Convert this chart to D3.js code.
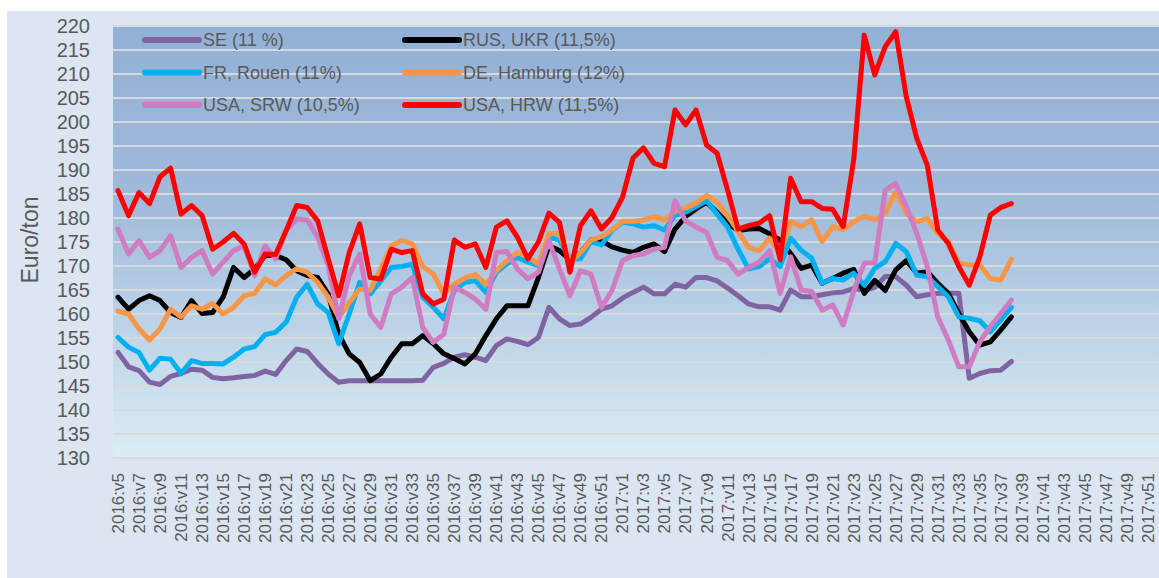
<!DOCTYPE html>
<html>
<head>
<meta charset="utf-8">
<script src="https://cdn.jsdelivr.net/npm/d3@7"></script>
<style>
  body { margin: 0; background: #fff; }
  text { font-family: "Liberation Sans", Arial, sans-serif; fill: #595959; }
</style>
</head>
<body>
<script>
const width = 1159;
const height = 578;

// weekly categories: 2016:v5 .. 2016:v52, 2017:v1 .. 2017:v52
const weeks2016 = d3.range(5, 53).map(w => "2016:v" + w);
const weeks2017 = d3.range(1, 53).map(w => "2017:v" + w);
const categories = weeks2016.concat(weeks2017);

const yTicks = d3.range(130, 221, 5);

// series values (Euro/ton), 2016:v5 .. 2017:v38
const se = [152,149,148.2,145.8,145.3,147,147.6,148.5,148.3,146.8,
  146.5,146.7,147,147.2,148.1,147.4,150.3,152.7,152.2,149.7,
  147.5,145.8,146.1,146.1,146.1,146.1,146.1,
  146.1,146.1,146.2,148.9,149.7,151,151.5,151,150.3,153.4,
  154.8,154.3,153.6,155.1,161.4,159,157.6,157.9,159.3,161,
  161.7,163.3,164.5,165.6,164.2,164.2,166.2,165.6,167.6,167.6,
  166.9,165.4,163.8,162.1,161.5,161.5,
  160.8,165,163.6,163.6,164,164.4,164.6,165.3,165,165.5,
  167.8,167.8,166,163.6,164,164.3,164.3,164.3,146.6,147.6,
  148.2,148.3,150.1];

const rusUkr = [163.5,161,162.8,163.8,162.8,160.3,159.3,162.8,160.1,160.3,
  163.5,169.7,167.6,169.4,172.2,172.2,171.3,169,168,167.6,
  164.2,155.8,151.7,149.9,146.1,147.5,151,
  153.8,153.8,155.5,153.8,151.7,150.7,149.6,151.7,155.5,159,
  161.7,161.7,161.7,167.6,174.2,173.2,171.3,172.8,175.4,175.3,
  174,173.3,172.8,173.9,174.6,173,177.7,180.3,181.9,183.3,
  181.2,178.9,177.4,177.7,177.8,176.7,
  175.4,172.6,169.5,170.2,166.4,167.4,168.5,169.3,164.3,167,
  164.9,169.2,171.1,168.5,168.8,166.4,164.3,160.1,156.3,153.5,
  154.2,156.7,159.4];

const frRouen = [155.1,153.1,152,148.3,150.8,150.6,147.6,150.3,149.7,149.7,
  149.6,151,152.7,153.2,155.7,156.2,158.3,163.5,166.2,162.1,
  160.3,153.8,160,166.6,164.2,166.9,169.7,
  169.9,170.4,163.5,161.4,159,164.9,166.6,166.9,164.5,168.7,
  170.4,171.8,170.8,170.1,176,175.4,171.5,171.5,175.1,174.4,
  177.4,179.1,178.8,178.1,178.4,177.5,180.5,181.2,182.4,183.6,
  180.8,178.1,173.5,169.4,169.9,171.5,
  169.9,175.8,173.3,171.6,166.4,167.4,167.1,168.5,166,169.5,
  170.9,174.7,173,168.1,167.8,165.7,163.6,159.4,159.1,158.6,
  156.3,158.8,161.4];

const deHamburg = [160.6,160,156.9,154.6,156.9,161,159.4,161.7,161,162.2,
  160,161.4,163.8,164.3,167.3,166.1,168,169.4,168.7,166.6,
  163.5,159.3,162.4,165.2,164.9,169.4,174.2,
  175.3,174.6,169.9,168.3,164.2,166.2,167.5,168.2,166.2,169,
  171.1,172.8,171.9,170.4,176.7,176.8,170.8,172.8,175.4,176.1,
  177.5,179.3,179.3,179.6,180.3,179.6,181.4,182.1,183.1,184.7,
  183.3,180.5,177.2,173.9,173.2,175.8,
  172.6,179.2,178.2,179.6,175.1,178.2,177.6,179.2,180.4,179.6,
  181,185.5,181,179.2,179.9,176.8,175.1,170.6,170.2,170.2,
  167.4,167.1,171.4];

const usaSrw = [177.7,172.5,175.3,171.8,173.2,176.3,169.7,171.8,173.2,168.3,
  170.8,173.2,174.2,168,174.2,171.5,177.4,179.8,179.6,176,
  170.1,159,168,172.5,160,157.2,164.2,
  165.6,167.6,157.2,154.1,155.8,165.6,164.5,163.1,161,172.8,
  173,169.4,167.3,168.7,175.3,169.4,163.8,169,168.3,161.4,
  164.9,171.1,172.2,172.5,173.5,173.9,183.6,179.4,178.1,177,
  171.8,171.1,168.3,169.7,170.8,173.2,
  164.3,171.9,165,164.7,160.8,161.9,157.7,164.7,170.6,170.6,
  185.8,187.2,182.4,176.8,169.9,159.4,154.6,149,149,154.2,
  157.4,160.1,162.9];

const usaHrw = [185.7,180.5,185.3,183,188.6,190.4,180.8,182.6,180.5,173.5,
  175,176.8,174.6,168.7,172.5,172.4,177.4,182.6,182.2,179.4,
  171.5,163.8,172.8,178.8,167.6,167.3,173.5,
  172.8,173.2,164.2,162.1,163.1,175.4,173.9,174.6,169.7,178.1,
  179.4,176,171.5,175,181,179.1,168.7,178.4,181.5,177.7,
  180.1,184.3,192.5,194.6,191.4,190.7,202.5,199.4,202.5,195.2,
  193.5,185.8,177.7,178.4,178.9,180.5,
  171.3,188.3,183.4,183.4,182,181.8,178.2,192.1,218.1,209.8,
  215.7,218.8,205.3,196.6,191,177.5,174.7,169.9,166,171.9,
  180.6,182.2,183];

const seriesNames = ["SE (11 %)", "RUS, UKR (11,5%)", "FR, Rouen (11%)",
  "DE, Hamburg (12%)", "USA, SRW (10,5%)", "USA, HRW (11,5%)"];
const seriesColors = ["#8064a2", "#000000", "#00b0f0", "#f79646", "#d07cc3", "#ff0000"];
const seriesValues = [se, rusUkr, frRouen, deHamburg, usaSrw, usaHrw];

const plot = {left: 113, right: 1159, top: 26, bottom: 458};

const x = d3.scalePoint().domain(categories).range([118, 1158.5]);
const y = d3.scaleLinear().domain([130, 220]).range([plot.bottom, plot.top]);

const svg = d3.select("body").append("svg")
  .attr("width", width)
  .attr("height", height);

// chart area
svg.append("rect")
  .attr("x", 7).attr("y", 11)
  .attr("width", width - 7).attr("height", height - 11)
  .attr("fill", "#dce6f2");

// plot area gradient
const grad = svg.append("defs").append("linearGradient")
  .attr("id", "plotbg").attr("x1", 0).attr("y1", 0).attr("x2", 0).attr("y2", 1);
grad.append("stop").attr("offset", "0%").attr("stop-color", "#93b1d6");
grad.append("stop").attr("offset", "40%").attr("stop-color", "#9fbadb");
grad.append("stop").attr("offset", "100%").attr("stop-color", "#dbedf4");

svg.append("rect")
  .attr("x", plot.left).attr("y", plot.top)
  .attr("width", plot.right - plot.left).attr("height", plot.bottom - plot.top)
  .attr("fill", "url(#plotbg)");

// gridlines
svg.append("g")
  .selectAll("line")
  .data(yTicks)
  .join("line")
    .attr("x1", plot.left).attr("x2", plot.right)
    .attr("y1", d => y(d)).attr("y2", d => y(d))
    .attr("stroke", "#d9d9d9")
    .attr("stroke-width", 2);

// y axis labels
svg.append("g")
  .selectAll("text")
  .data(yTicks)
  .join("text")
    .attr("x", 90)
    .attr("y", d => y(d))
    .attr("dy", "0.35em")
    .attr("text-anchor", "end")
    .attr("font-size", 20)
    .text(d => d);

svg.append("text")
  .attr("transform", "translate(38,240) rotate(-90)")
  .attr("text-anchor", "middle")
  .attr("font-size", 23)
  .text("Euro/ton");

// x axis labels, every second week
svg.append("g")
  .selectAll("text")
  .data(categories.filter((d, i) => i % 2 === 0))
  .join("text")
    .attr("transform", d => `translate(${x(d)},473) rotate(-90)`)
    .attr("dy", "0.35em")
    .attr("text-anchor", "end")
    .attr("font-size", 17)
    .text(d => d);

// lines
const line = d3.line()
  .x((d, i) => x(categories[i]))
  .y(d => y(d));

svg.append("g")
  .selectAll("path")
  .data(seriesValues)
  .join("path")
    .attr("d", line)
    .attr("fill", "none")
    .attr("stroke", (d, i) => seriesColors[i])
    .attr("stroke-width", 5)
    .attr("stroke-linejoin", "round")
    .attr("stroke-linecap", "round");

// legend, two columns
const legend = svg.append("g")
  .selectAll("g")
  .data(seriesNames)
  .join("g")
    .attr("transform", (d, i) => `translate(${i % 2 === 0 ? 145 : 405},${40 + Math.floor(i / 2) * 32.5})`);

legend.append("line")
  .attr("x1", 0).attr("x2", 54)
  .attr("stroke", (d, i) => seriesColors[i])
  .attr("stroke-width", 6)
  .attr("stroke-linecap", "round");

legend.append("text")
  .attr("x", 58)
  .attr("dy", "0.35em")
  .attr("font-size", 18)
  .text(d => d);
</script>
</body>
</html>
